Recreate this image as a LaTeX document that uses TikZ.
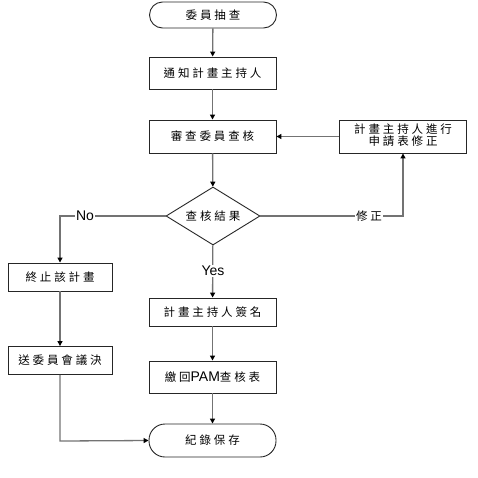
\documentclass[tikz,border=0pt]{standalone}
\usepackage{fontspec}
\setmainfont{Liberation Sans}
\newfontfamily\cjk[LetterSpace=25]{Noto Sans CJK TC}
\usetikzlibrary{shapes.geometric,arrows.meta}
\tikzset{
  box/.style={draw=black!85,line width=0.9pt,fill=white,minimum width=127pt,minimum height=32pt,inner sep=0pt,font=\cjk\fontsize{11.5}{13}\selectfont},
  sbox/.style={box,minimum width=104pt,minimum height=28pt},
  term/.style={box,rounded corners=13pt},
  dia/.style={draw=black!85,line width=0.9pt,fill=white,diamond,aspect=1.6,minimum width=94pt,minimum height=58pt,inner sep=0pt,font=\cjk\fontsize{11.5}{13}\selectfont},
  conn/.style={draw=black!55,line width=1.3pt,-{Triangle[length=5pt,width=5pt,color=black]}},
  lbl/.style={fill=white,inner sep=1pt,font=\fontsize{14}{16}\selectfont},
  clbl/.style={fill=white,inner sep=1pt,font=\cjk\fontsize{11.5}{13}\selectfont}
}
\begin{document}
\begin{tikzpicture}[x=1pt,y=-1pt]
\useasboundingbox (0,0) rectangle (478,477);
\node[term,minimum height=26pt] (start) at (213,15) {委員抽查};
\node[box] (notify) at (212.5,73) {通知計畫主持人};
\node[box,minimum height=33pt] (review) at (212.5,136.5) {審查委員查核};
\node[box,minimum height=33pt] (fix) at (403,136.5) {\begin{tabular}{@{}c@{}}計畫主持人進行\\[-2pt]申請表修正\end{tabular}};
\node[dia] (dec) at (213,216) {查核結果};
\node[sbox] (stop) at (60,277) {終止該計畫};
\node[sbox] (send) at (60,360.5) {送委員會議決};
\node[box,minimum height=28pt] (sign) at (212.5,312) {計畫主持人簽名};
\node[box] (ret) at (212.5,377) {繳回{\fontspec{Liberation Sans}\fontsize{14}{16}\selectfont PAM}查核表};
\node[term,minimum height=33pt,rounded corners=16pt] (end) at (212.5,440.5) {紀錄保存};
\coordinate (nocorner) at (60,216);
\coordinate (fixcorner) at (403,216);
\coordinate (sendcorner) at (60,441);

\path[conn] (start) -- (notify);
\path[conn] (notify) -- (review);
\path[conn] (review) -- (dec);
\path[conn] (fix) -- (review);
\path[conn] (dec.west) -- (nocorner) -- (stop);
\path[conn] (dec.east) -- (fixcorner) -- (fix);
\path[conn] (dec) -- (sign);
\path[conn] (stop) -- (send);
\path[conn] (sign) -- (ret);
\path[conn] (ret) -- (end);
\path[conn] (send) -- (sendcorner) -- (end.west);
\node[lbl] (nolbl) at (85,216) {No};
\node[lbl] (yeslbl) at (213,271) {Yes};
\node[clbl] (fixlbl) at (369,216) {修正};
\end{tikzpicture}
\end{document}
